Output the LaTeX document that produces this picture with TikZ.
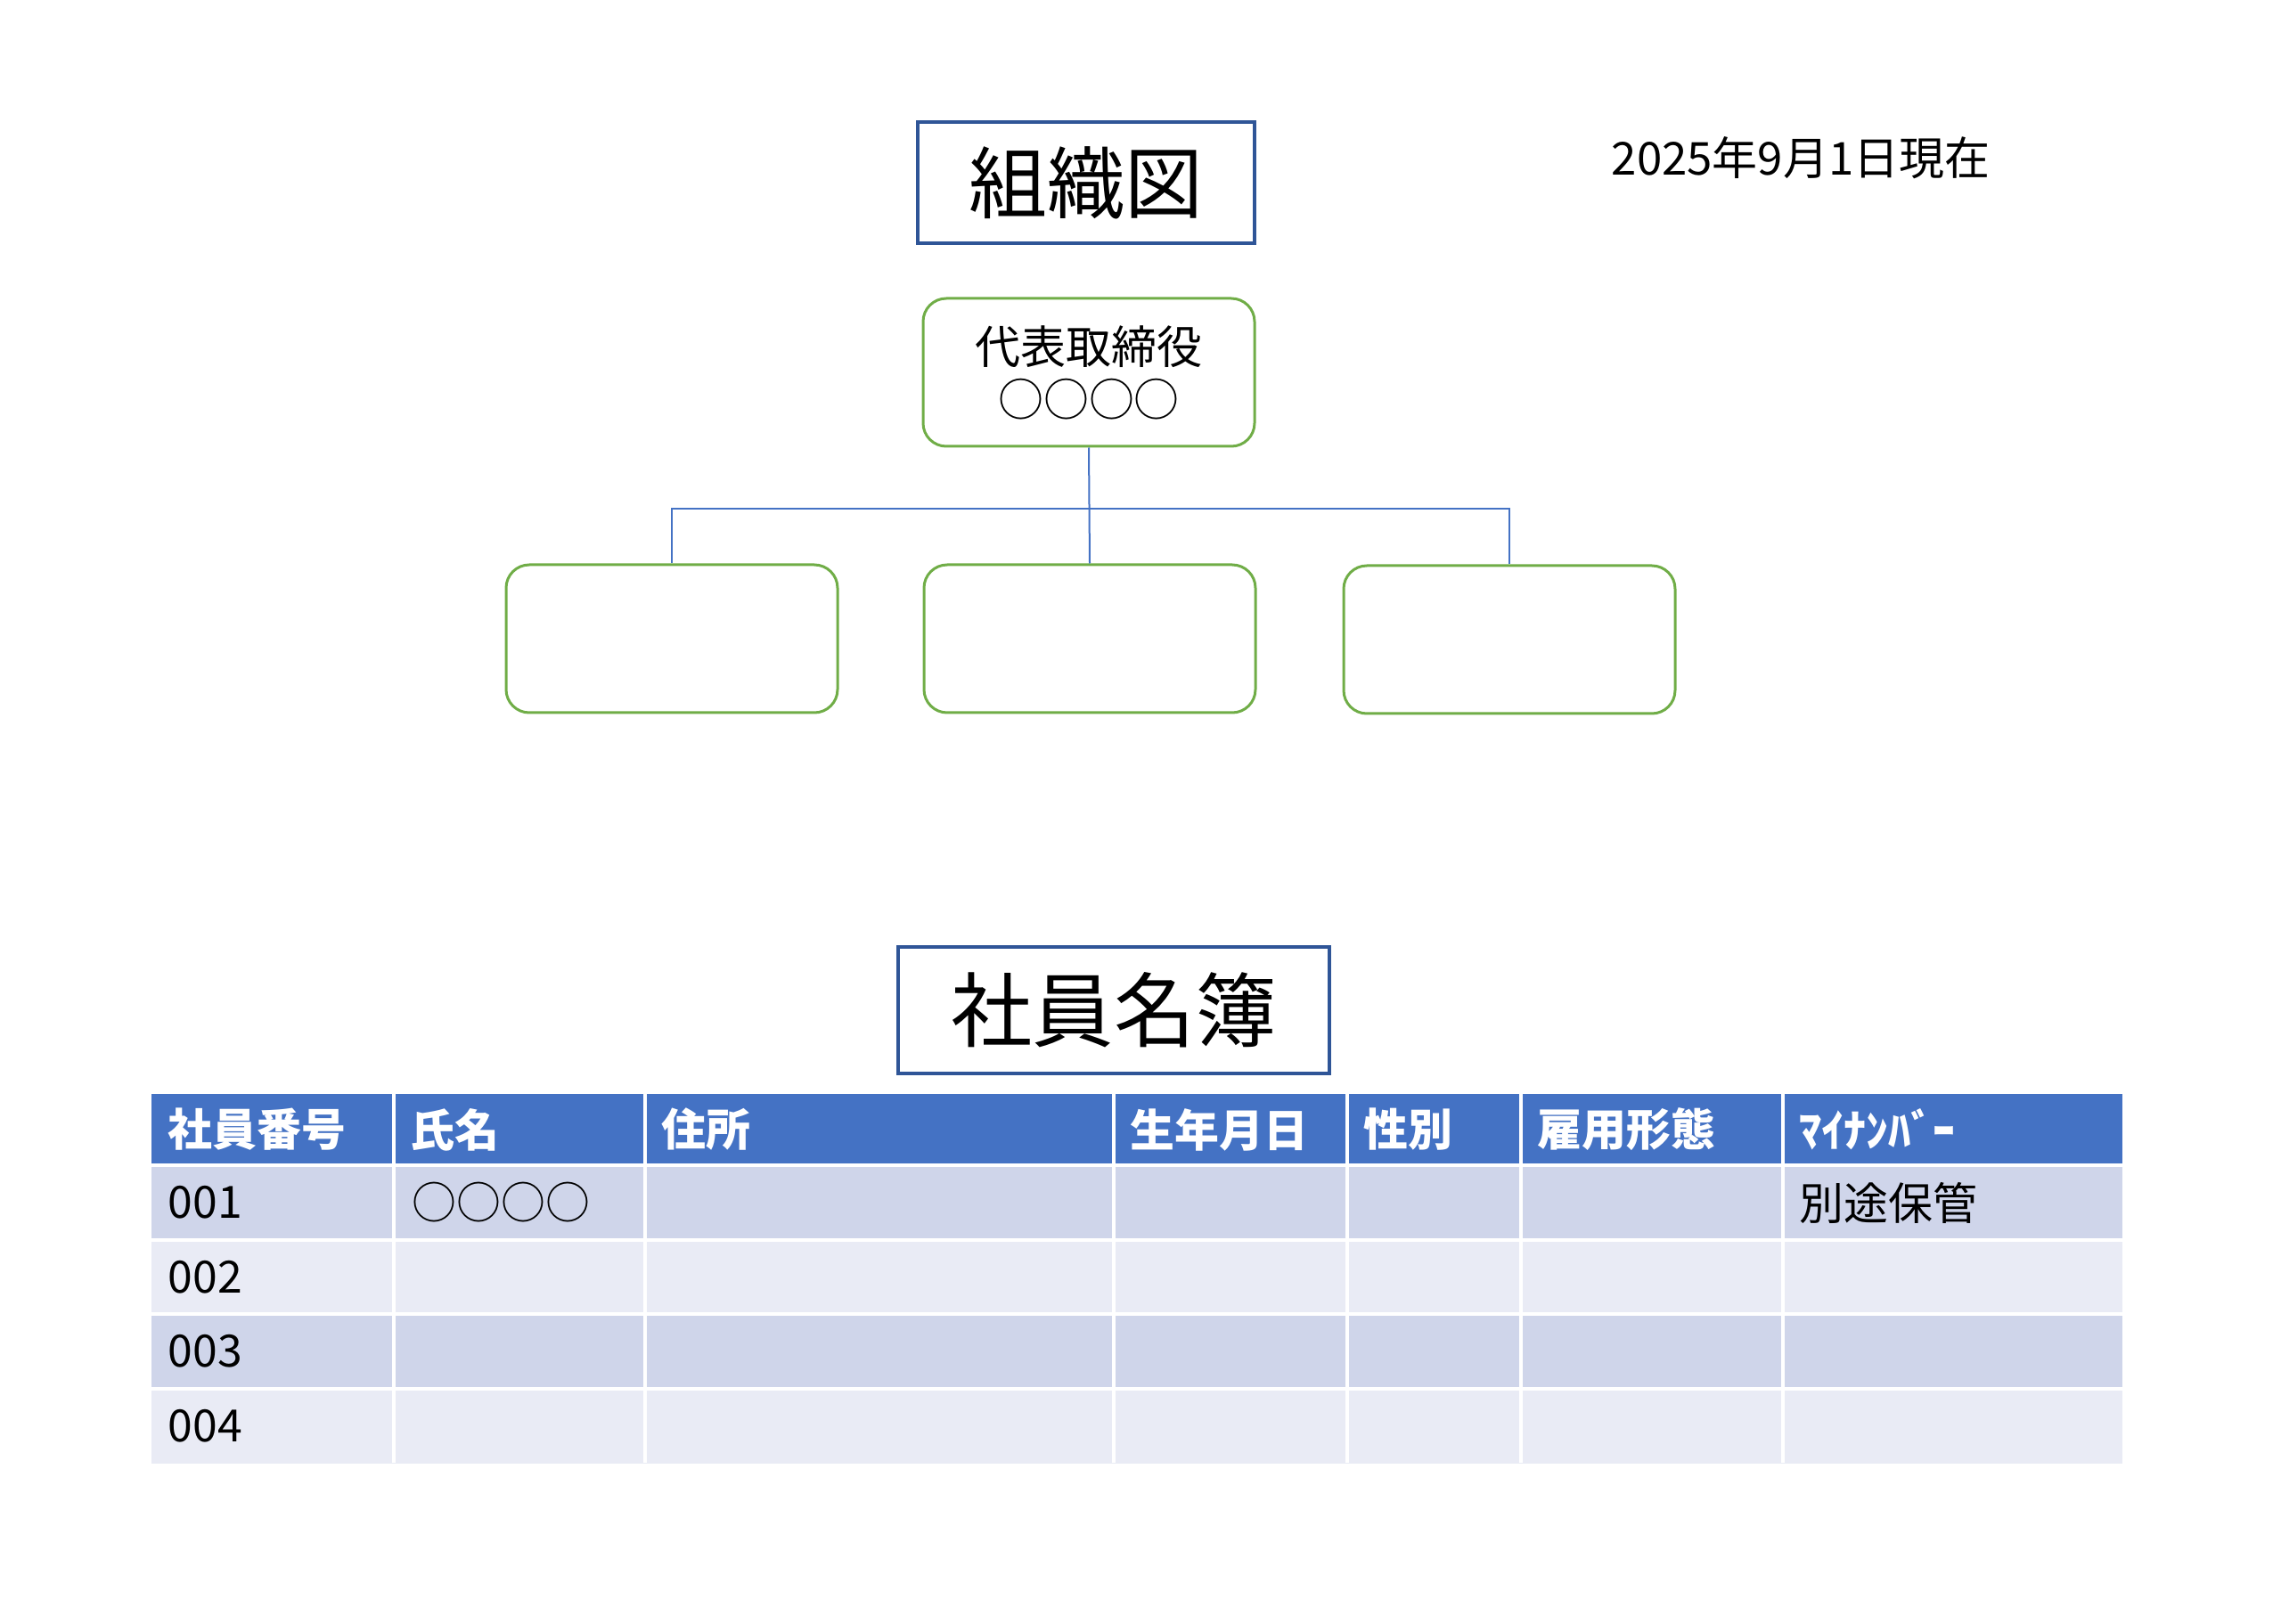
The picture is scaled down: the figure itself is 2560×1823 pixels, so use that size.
\documentclass[tikz,border=0pt]{standalone}
\usepackage{fontspec}
\setmainfont{Noto Sans CJK JP}
\definecolor{hdrblue}{HTML}{4472C4}
\definecolor{rowdark}{HTML}{CFD5EA}
\definecolor{rowlight}{HTML}{E9EBF5}
\definecolor{titleblue}{HTML}{2F5597}
\definecolor{boxgreen}{HTML}{70AD47}
\tikzset{
  titlebox/.style={draw=titleblue, line width=0.35mm, inner sep=0pt, font=\fontsize{25}{30}\selectfont},
  orgbox/.style={draw=boxgreen, line width=0.3mm, rounded corners=2.6mm, minimum width=37.2mm, minimum height=16.6mm, inner sep=0pt, align=center, font=\fontsize{14.5}{16.8}\selectfont},
  conn/.style={draw=hdrblue, line width=0.2mm},
  hdrtext/.style={anchor=west, inner sep=0pt, text=white, font=\fontsize{14.2}{16}\selectfont\bfseries},
  celltext/.style={anchor=west, inner sep=0pt, font=\fontsize{14.2}{16}\selectfont}
}
\begin{document}
\begin{tikzpicture}[x=0.1mm, y=-0.1mm]
\useasboundingbox (0,0) rectangle (2560,1823);

\node[titlebox, minimum width=37.8mm, minimum height=13.6mm] (orgtitle) at (1219,205) {組織図};
\node[anchor=west, inner sep=0pt, font=\fontsize{14.5}{16}\selectfont] (date) at (1808,177) {2025年9月1日現在};

\node[orgbox] (ceo) at (1222,418) {代表取締役\\○○○○};
\node[orgbox] (left) at (754,717) {};
\node[orgbox] (mid) at (1223,717) {};
\node[orgbox] (right) at (1694,718) {};

\coordinate (bar) at (1223,571);
\draw[conn] (ceo.south) -- (mid.north);
\draw[conn] (left.north) |- (bar) -| (right.north);

\node[titlebox, minimum width=48.4mm, minimum height=14.2mm, font=\fontsize{26}{30}\selectfont] (listtitle) at (1250,1134) {社員名簿};

\fill[hdrblue] (170,1228) rectangle (2382,1308);
\foreach \y/\c in {1308/rowdark, 1392/rowlight, 1475/rowdark, 1559/rowlight}
  \fill[\c] (170,\y) rectangle (2382,\y+83.5);
\foreach \x in {442, 724, 1250, 1512, 1707, 2001}
  \draw[white, line width=0.35mm] (\x,1228) -- (\x,1642);
\foreach \y in {1308, 1392, 1475, 1559}
  \draw[white, line width=0.45mm] (170,\y) -- (2382,\y);

\foreach \x/\t [count=\i] in {170/社員番号, 442/氏名, 724/住所, 1250/生年月日, 1512/性別, 1707/雇用形態, 2001/ﾏｲﾅﾝﾊﾞｰ}
  \node[hdrtext] (hdr\i) at (\x+18,1268) {\t};
\foreach \y/\t [count=\i] in {1350/001, 1434/002, 1517/003, 1601/004}
  \node[celltext] (no\i) at (188,\y) {\t};
\node[celltext] (name1) at (462,1350) {○○○○};
\node[celltext] (mynum1) at (2019,1350) {別途保管};

\end{tikzpicture}
\end{document}
